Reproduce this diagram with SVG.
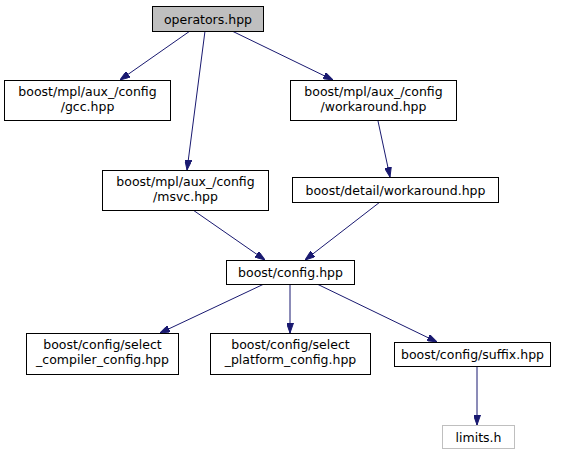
<svg xmlns="http://www.w3.org/2000/svg" width="569" height="455" viewBox="0 0 569 455">
<style>
.n rect{fill:#fff;stroke:#000;stroke-width:1}
.g rect{fill:#bfbfbf}
.l rect{stroke:#bfbfbf}
text{font-family:"DejaVu Sans","Liberation Sans",sans-serif;font-size:12.5px;text-anchor:middle;fill:#000}
.e path{fill:none;stroke:#191970;stroke-width:1}
</style>
<defs>
<marker id="a" viewBox="0 0 10 7" refX="10" refY="3.5" markerWidth="10" markerHeight="7" markerUnits="userSpaceOnUse" orient="auto">
<path d="M0,0L10,3.5L0,7z" fill="#191970" stroke="#191970"/>
</marker>
</defs>
<g class="e">
<path d="M190,31L120,80" marker-end="url(#a)"/>
<path d="M205,31L187,170" marker-end="url(#a)"/>
<path d="M232,31L333,80" marker-end="url(#a)"/>
<path d="M378,121L390,177" marker-end="url(#a)"/>
<path d="M193,210L265,260" marker-end="url(#a)"/>
<path d="M380,202L305,260" marker-end="url(#a)"/>
<path d="M264,284L160,333" marker-end="url(#a)"/>
<path d="M290,284L290,333" marker-end="url(#a)"/>
<path d="M317,284L437,342" marker-end="url(#a)"/>
<path d="M477,366L477,425" marker-end="url(#a)"/>
</g>
<g id="operators" class="n g"><rect x="152.5" y="6.5" width="111" height="25"/><text x="208" y="23.5">operators.hpp</text></g>
<g id="gcc" class="n"><rect x="4.5" y="80.5" width="166" height="40"/><text x="87.5" y="96">boost/mpl/aux_/config</text><text x="87.5" y="111">/gcc.hpp</text></g>
<g id="mplworkaround" class="n"><rect x="290.5" y="80.5" width="166" height="40"/><text x="373.5" y="96">boost/mpl/aux_/config</text><text x="373.5" y="111">/workaround.hpp</text></g>
<g id="msvc" class="n"><rect x="102.5" y="170.5" width="166" height="40"/><text x="185.5" y="186">boost/mpl/aux_/config</text><text x="185.5" y="201">/msvc.hpp</text></g>
<g id="detailworkaround" class="n"><rect x="292.5" y="177.5" width="206" height="25"/><text x="395.5" y="194.5">boost/detail/workaround.hpp</text></g>
<g id="config" class="n"><rect x="226.5" y="260.5" width="128" height="24"/><text x="290.5" y="277">boost/config.hpp</text></g>
<g id="compiler" class="n"><rect x="26.5" y="333.5" width="152" height="41"/><text x="102.5" y="349">boost/config/select</text><text x="102.5" y="364">_compiler_config.hpp</text></g>
<g id="platform" class="n"><rect x="210.5" y="333.5" width="160" height="41"/><text x="290.5" y="349">boost/config/select</text><text x="290.5" y="364">_platform_config.hpp</text></g>
<g id="suffix" class="n"><rect x="394.5" y="342.5" width="156" height="24"/><text x="472.5" y="359">boost/config/suffix.hpp</text></g>
<g id="limits" class="n l"><rect x="442.5" y="425.5" width="72" height="23"/><text x="478.5" y="442">limits.h</text></g>
</svg>
